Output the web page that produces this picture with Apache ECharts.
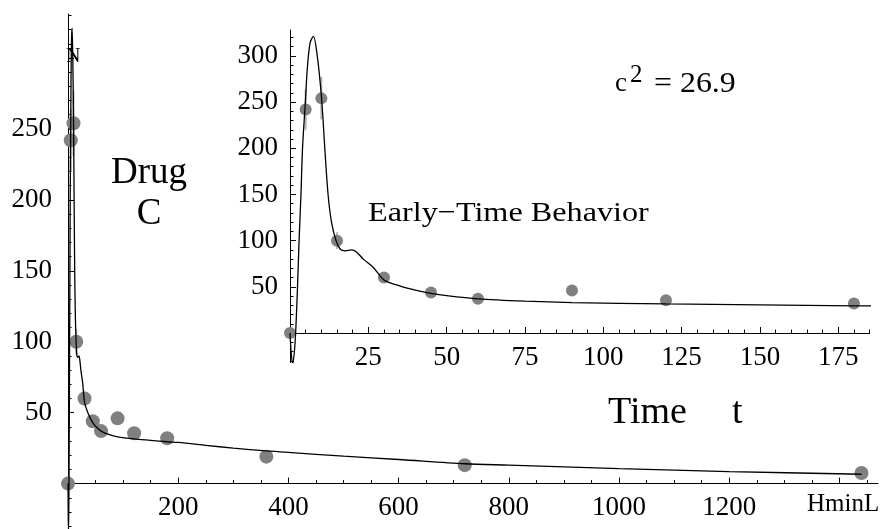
<!DOCTYPE html>
<html><head><meta charset="utf-8">
<script src="https://cdn.jsdelivr.net/npm/echarts@6/dist/echarts.min.js"></script>
<style>html,body{margin:0;padding:0;background:#fff}#c{width:880px;height:529px}</style>
</head><body><div id="c"></div>
<script>
// ---- data ----
const obsT   = [0, 5, 10, 15, 30, 45, 60, 90, 120, 180, 360, 720, 1440];
const obsC   = [0, 242, 254, 100, 60, 44, 37, 46, 35.5, 32, 19, 13, 7.5];
const obsErr = [0, 22, 23, 9, 5, 4, 3.5, 4, 3, 3, 2, 1, 0.7];

const fitT = [0, 0.4, 0.9, 1.4, 1.8, 2.4, 2.9, 3.5, 4.0, 4.9, 5.5, 6.4, 7.45, 8.7, 10.1, 11.2, 12.2, 13.3, 14.7, 16, 17.6, 19.7, 21.3, 23.4, 26.6, 30, 35, 40, 45, 50, 60, 75, 90, 120, 150, 180, 200, 250, 300, 360, 400, 500, 600, 720, 800, 1000, 1200, 1440];
const fitC = [0, -22, -33, -20, 0, 50, 100, 150, 200, 250, 285, 314, 321, 300, 253, 195, 148, 119, 100, 91, 89, 90, 87.5, 80, 71, 57.5, 51, 46.5, 43, 40.5, 37, 34.5, 33, 31.5, 30.5, 29.5, 29, 27, 25, 23, 22, 19.3, 17, 14, 13, 10.5, 8.5, 6.6];

const mainXLabels = [200, 400, 600, 800, 1000, 1200];
const mainXMajor  = [200, 400, 600, 800, 1000, 1200, 1400];
const mainYLabels = [50, 100, 150, 200, 250];
const mainYMajor  = [50, 100, 150, 200, 250, 300];
const insetXLabels = [25, 50, 75, 100, 125, 150, 175];
const insetYLabels = [50, 100, 150, 200, 250, 300];

function steps(from, to, step, skip) {
  const out = [];
  for (let v = from; v <= to + 1e-9; v += step) { if (v !== 0 && v % skip !== 0) out.push(v); }
  return out;
}
const mainXMinor  = steps(50, 1450, 50, 200);
const mainYMinor  = steps(-30, 330, 10, 50);
const insetXMinor = steps(5, 185, 5, 25);
const insetYMinor = steps(-30, 320, 10, 50);

const FONT = '"Liberation Serif", "Times New Roman", serif';

// axis with line/ticks (labels optional)
function axis(dim, grid, min, max, ticks, len, labels, margin, showLine, offset) {
  return {
    type: 'value', gridIndex: grid, min: min, max: max,
    position: dim === 'x' ? 'bottom' : 'left',
    offset: offset || 0,
    axisLine: { show: showLine, onZero: !labels || dim === 'y', lineStyle: { color: '#000', width: 1 } },
    axisTick: ticks ? { show: true, inside: true, length: len, customValues: ticks, lineStyle: { color: '#000', width: 1 } } : { show: false },
    axisLabel: labels ? { show: true, customValues: labels, margin: margin, fontSize: 27, fontFamily: FONT, color: '#000',
      formatter: function (v) { return String(v); } } : { show: false },
    splitLine: { show: false },
    minorTick: { show: false }
  };
}

const obsPairs = obsT.map((t, i) => [t, obsC[i]]);
const errTriples = obsT.map((t, i) => [t, obsC[i] - obsErr[i], obsC[i] + obsErr[i]]);
const fitPairs = fitT.map((t, i) => [t, fitC[i]]);

function errSeries(xi, yi) {
  return {
    type: 'custom', xAxisIndex: xi, yAxisIndex: yi, clip: true, z: 1,
    data: errTriples,
    renderItem: function (params, api) {
      const a = api.coord([api.value(0), api.value(1)]);
      const b = api.coord([api.value(0), api.value(2)]);
      return { type: 'line', shape: { x1: a[0], y1: a[1], x2: b[0], y2: b[1] }, style: { stroke: '#b4b4b4', lineWidth: 2 } };
    }
  };
}
function dotSeries(xi, yi, size) {
  return { type: 'scatter', xAxisIndex: xi, yAxisIndex: yi, data: obsPairs, symbolSize: size, clip: true, z: 2,
    itemStyle: { color: '#808080', opacity: 1 } };
}
function fitSeries(xi, yi) {
  return { type: 'line', xAxisIndex: xi, yAxisIndex: yi, data: fitPairs, showSymbol: false, smooth: 0.3, clip: true, z: 3,
    lineStyle: { color: '#000', width: 1.3 } };
}

// main grid: y from -32..331 over 515px; inset: y from -32..328 over 332.6px
const chart = echarts.init(document.getElementById('c'), null, { renderer: 'canvas' });
chart.setOption({
  animation: false,
  backgroundColor: '#fff',
  grid: [
    { left: 68, top: 14, width: 810, height: 515, containLabel: false, outerBoundsMode: 'none' },
    { left: 290, top: 30, width: 579.6, height: 332.6, containLabel: false, outerBoundsMode: 'none' }
  ],
  xAxis: [
    axis('x', 0, 0, 1470, mainXMajor, 6, null, 0, true),
    axis('x', 0, 0, 1470, mainXMinor, 3.5, null, 0, false),
    axis('x', 0, 0, 1470, null, 0, mainXLabels, 11, false, -45.4),
    axis('x', 1, 0, 185, insetXLabels, 6, null, 0, true),
    axis('x', 1, 0, 185, insetXMinor, 3.5, null, 0, false),
    axis('x', 1, 0, 185, null, 0, insetXLabels, 11, false, -29.6)
  ],
  yAxis: [
    axis('y', 0, -32, 331, mainYMajor, 6, mainYLabels, 16, true),
    axis('y', 0, -32, 331, mainYMinor, 3.5, null, 0, false),
    axis('y', 1, -32, 328, insetYLabels, 6, insetYLabels, 12, true),
    axis('y', 1, -32, 328, insetYMinor, 3.5, null, 0, false)
  ],
  series: [
    errSeries(0, 0), dotSeries(0, 0, 14), fitSeries(0, 0),
    errSeries(3, 2), dotSeries(3, 2, 12), fitSeries(3, 2)
  ],
  graphic: [
    { type: 'text', x: 149, y: 173, style: { text: 'Drug', font: '37px ' + FONT, fill: '#000', align: 'center', verticalAlign: 'middle' } },
    { type: 'text', x: 149, y: 214, style: { text: 'C', font: '37px ' + FONT, fill: '#000', align: 'center', verticalAlign: 'middle' } },
    { type: 'text', x: 66, y: 57, style: { text: 'N', font: '20px ' + FONT, fill: '#000', align: 'left', verticalAlign: 'middle' } },
    { type: 'text', x: 807, y: 504, style: { text: 'HminL', font: '25px ' + FONT, fill: '#000', align: 'left', verticalAlign: 'middle' } },
    { type: 'text', x: 608, y: 413, style: { text: 'Time', font: '38px ' + FONT, fill: '#000', align: 'left', verticalAlign: 'middle' } },
    { type: 'text', x: 732, y: 413, style: { text: 't', font: '38px ' + FONT, fill: '#000', align: 'left', verticalAlign: 'middle' } },
    { type: 'text', x: 368, y: 214, scaleX: 1.15, style: { text: 'Early\u2212Time Behavior', font: '28px ' + FONT, fill: '#000', align: 'left', verticalAlign: 'middle' } },
    { type: 'text', x: 615, y: 84, style: { text: 'c', font: '27px ' + FONT, fill: '#000', align: 'left', verticalAlign: 'middle' } },
    { type: 'text', x: 630, y: 75, style: { text: '2', font: '25px ' + FONT, fill: '#000', align: 'left', verticalAlign: 'middle' } },
    { type: 'text', x: 654, y: 84, scaleX: 1.1, style: { text: '= 26.9', font: '29px ' + FONT, fill: '#000', align: 'left', verticalAlign: 'middle' } }
  ]
});
</script></body></html>
